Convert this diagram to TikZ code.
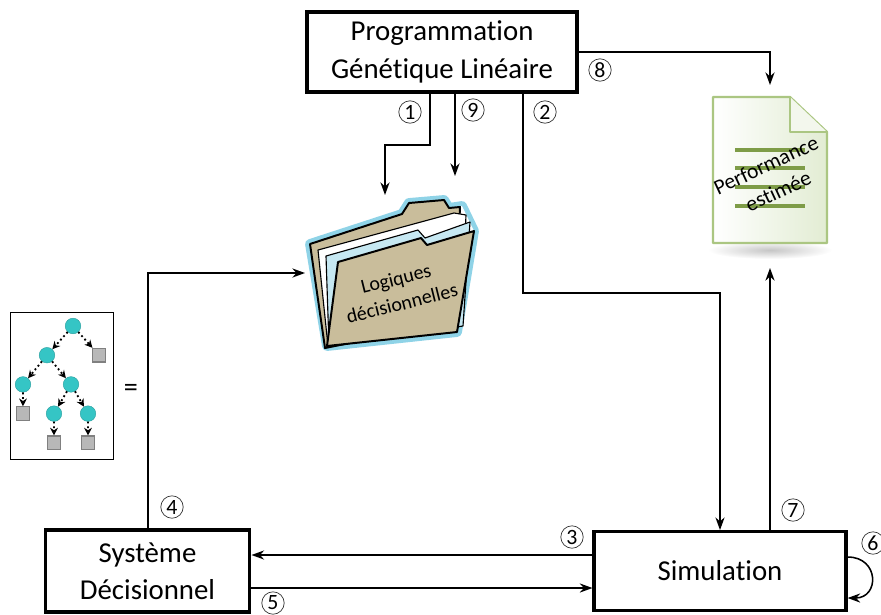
\documentclass[tikz,border=0pt]{standalone}
\usepackage{fontspec}
\setmainfont[Ligatures=NoCommon]{Carlito}
\usetikzlibrary{arrows.meta}

\definecolor{turq}{HTML}{35C5C5}
\definecolor{gris}{HTML}{B8B8B8}
\definecolor{kraft}{HTML}{C9BD9B}
\definecolor{halo}{HTML}{8FD3E7}
\definecolor{bleupapier}{HTML}{C6E8F2}
\definecolor{vertbord}{HTML}{ABC682}
\definecolor{vertfond}{HTML}{E2ECD3}
\definecolor{vertligne}{HTML}{7E9C47}

\begin{document}
\begin{tikzpicture}[x=0.025cm,y=-0.025cm,
	boite/.style={draw,line width=2.2pt,align=center,font=\fontsize{20.5}{27}\selectfont},
	fleche/.style={line width=1.1pt,-{Stealth[length=9pt,width=6.5pt]}},
	num/.style={circle,draw=black!80,line width=0.5pt,minimum size=0.56cm,inner sep=0pt,font=\fontsize{15.5}{15.5}\selectfont},
	noeud/.style={circle,solid,fill=turq,draw=turq!80!black,line width=0.3pt,minimum size=0.39cm,inner sep=0pt},
	feuille/.style={rectangle,solid,fill=gris,draw=gray,line width=0.8pt,minimum size=0.34cm,inner sep=0pt}]
	\useasboundingbox (0,0) rectangle (881,614);

	% les trois blocs
	\node[boite,minimum width=6.75cm,minimum height=2cm] (pgl) at (442,52) {Programmation\\Génétique Linéaire};
	\node[boite,minimum width=5.12cm,minimum height=2.05cm,font=\fontsize{20.5}{26}\selectfont] (sd) at (147.5,571) {Système\\Décisionnel};
	\node[boite,minimum width=6.3cm,minimum height=1.97cm] (sim) at (720,571) {Simulation};

	% dossier des logiques
	\begin{scope}[line join=round]
		\draw[halo,line width=7pt] (310,244) -- (402,214) -- (409,203) -- (444,200) -- (449,208) -- (462,206)
			-- (474,231) -- (457,332) -- (327,346) -- cycle;
		\fill[white] (310,244) -- (402,214) -- (409,203) -- (444,200) -- (449,208) -- (462,206)
			-- (474,231) -- (457,332) -- (327,346) -- cycle;
		\draw[fill=kraft,line width=1.4pt] (310,244) -- (402,214) -- (409,203) -- (444,200) -- (449,208) -- (460,207)
			-- (455,322) -- (325,348) -- cycle;
		\draw[fill=white,line width=0.8pt] (318,250) -- (454,213) -- (466,215) -- (461,323) -- (328,346) -- cycle;
		\draw[fill=bleupapier,line width=0.8pt] (326,256) -- (418,230) -- (425,238) -- (470,222) -- (463,326) -- (329,346) -- cycle;
		\draw[fill=kraft,line width=1.4pt] (338,262) -- (421,238) -- (427,245) -- (474,231) -- (457,332) -- (327,346) -- cycle;
	\end{scope}
	\node[rotate=14,align=center,font=\fontsize{14.2}{18}\selectfont] (logiques) at (399,291) {Logiques\\décisionnelles};

	% performance estimée
	\shade[inner color=gray!45,outer color=white] (770,250) ellipse (62 and 9);
	\draw[vertbord,line width=1.6pt,left color=white,right color=vertfond,line join=round]
		(713,97) -- (790,97) -- (827,132) -- (827,243) -- (713,243) -- cycle;
	\draw[vertbord,line width=1.2pt,fill=white!60!vertfond,line join=round] (790,97) -- (790,132) -- (827,132);
	\foreach \y in {150,168,187,206}
		\draw[vertligne,line width=3pt] (735,\y) -- (805,\y);
	\node[rotate=25,align=center,font=\fontsize{15.3}{20.5}\selectfont] (perf) at (772,178) {Performance\\estimée};

	% arbre d'une logique
	\node[draw,line width=0.6pt,minimum width=2.575cm,minimum height=3.675cm] (cadre) at (61.5,385.5) {};
	\begin{scope}[level distance=0.73cm,
		level 1/.style={sibling distance=1.3cm},
		level 2/.style={sibling distance=1.2cm},
		level 3/.style={sibling distance=0.85cm},
		edge from parent/.style={draw,dotted,line width=1.3pt,-{Stealth[length=5.5pt,width=5.5pt]}}]
		\node[noeud] (r) at (73,326) {}
		child {node[noeud] {}
			child {node[noeud] {}
				child {node[feuille] {}}}
			child {node[noeud] {}
				child {node[noeud] {}
					child {node[feuille] {}}}
				child {node[noeud] {}
					child {node[feuille] {}}}}
			}
		child {node[feuille] {}};
	\end{scope}
	\node[font=\fontsize{20}{20}\selectfont] (egal) at (131,390) {=};

	% points de passage
	\coordinate (p1) at (430,145);
	\coordinate (p2) at (523,293);
	\coordinate (p4) at (148,273);
	\coordinate (dosH) at (385,195);
	\coordinate (dos9) at (455,176);
	\coordinate (dosG) at (305,273);
	\coordinate (docH) at (770,85);
	\coordinate (docB) at (770,268);

	% connexions
	\draw[fleche] (pgl.south -| p1) -- (p1) -| (dosH);
	\draw[fleche] (pgl.south -| dos9) -- (dos9);
	\draw[fleche] (pgl.south -| p2) -- (p2) -| (sim.north);
	\draw[fleche] (pgl.east) -| (docH);
	\draw[fleche] (sim.north -| docB) -- (docB);
	\draw[fleche] (sd.north -| p4) -- (p4) -- (dosG);
	\draw[fleche] (sim.west |- 0,555) -- (sd.east |- 0,555);
	\draw[fleche] (sd.east |- 0,588) -- (sim.west |- 0,588);
	\draw[fleche] (sim.east |- 0,557) to[out=0,in=0,looseness=2] (sim.east |- 0,598);

	% numeros des etapes
	\node[num] (n1) at (410,112) {1};
	\node[num] (n2) at (545,112) {2};
	\node[num] (n3) at (572,537) {3};
	\node[num] (n4) at (172,507) {4};
	\node[num] (n5) at (273,603) {5};
	\node[num] (n6) at (873,543) {6};
	\node[num] (n7) at (793,510) {7};
	\node[num] (n8) at (600,70) {8};
	\node[num] (n9) at (473,110) {9};
\end{tikzpicture}
\end{document}
